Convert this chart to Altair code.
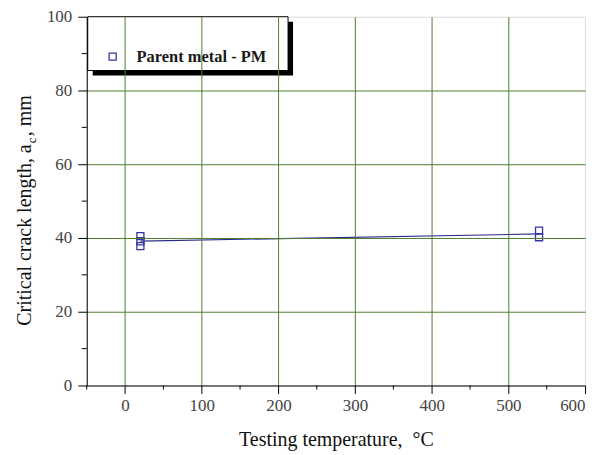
import altair as alt
import pandas as pd

# ---- data ----
temps = [20, 20, 20, 540, 540]
crack = [40.5, 39.1, 37.8, 42.0, 40.2]
series_name = "Parent metal - PM"

x_major = [0, 100, 200, 300, 400, 500, 600]
x_minor = [-50, 50, 150, 250, 350, 450, 550]
y_major = [0, 20, 40, 60, 80, 100]
y_minor = [10, 30, 50, 70, 90]

df = pd.DataFrame({"T": temps, "ac": crack})
one = pd.DataFrame({"k": [0]})
xmin_df = pd.DataFrame({"v": x_minor})
ymin_df = pd.DataFrame({"v": y_minor})

W, H = 500, 370
GRID = "#4e7d32"
FONT = "Liberation Serif"
PTC = "#3535a5"
LINEC = "#2b2b8c"

x_scale = alt.Scale(domain=[-50, 600], nice=False, zero=False)
y_scale = alt.Scale(domain=[0, 100], nice=False)


def x_axis():
    return alt.Axis(
        values=x_major,
        title="Testing temperature,\u00a0\u00a0°C",
        titleFont=FONT, titleFontSize=20, titleFontWeight="normal", titleColor="#111",
        titlePadding=16,
        labelFont=FONT, labelFontSize=17, labelColor="#444",
        labelPadding=4,
        tickColor="black", tickSize=8,
        domainColor="black",
        grid=True, gridColor=GRID, gridWidth=1,
        gridOpacity={"condition": {"test": "datum.value < 599", "value": 1}, "value": 0},
        zindex=1,
    )


def y_axis():
    return alt.Axis(
        values=y_major,
        title=None,
        labelFont=FONT, labelFontSize=17, labelColor="#444",
        labelPadding=6,
        tickColor="black", tickSize=9,
        domainColor="black",
        grid=True, gridColor=GRID, gridWidth=1,
        gridOpacity={"condition": {"test": "datum.value > 1 && datum.value < 99", "value": 1}, "value": 0},
        zindex=1,
    )


base = alt.Chart(df)

line = base.transform_regression("T", "ac", extent=[20, 540]).mark_line(
    color=LINEC, strokeWidth=1.1
).encode(
    x=alt.X("T:Q", scale=x_scale, axis=x_axis()),
    y=alt.Y("ac:Q", scale=y_scale, axis=y_axis()),
)

points = base.mark_point(shape="square", filled=False, size=50, color=PTC, strokeWidth=1.3, opacity=1).encode(
    x=alt.X("T:Q", scale=x_scale, axis=x_axis()),
    y=alt.Y("ac:Q", scale=y_scale, axis=y_axis()),
)

# minor ticks
xminor = alt.Chart(xmin_df).mark_rule(color="black", strokeWidth=1).encode(
    x=alt.X("v:Q", scale=x_scale, axis=x_axis()),
    y=alt.value(H), y2=alt.value(H + 4),
)
yminor = alt.Chart(ymin_df).mark_rule(color="black", strokeWidth=1).encode(
    y=alt.Y("v:Q", scale=y_scale, axis=y_axis()),
    x=alt.value(-5), x2=alt.value(0),
)

# legend box with shadow
shadow = alt.Chart(one).mark_rect(color="black").encode(
    x=alt.value(6), x2=alt.value(207), y=alt.value(5), y2=alt.value(59)
)
box = alt.Chart(one).mark_rect(fill="white", stroke="black", strokeWidth=1).encode(
    x=alt.value(1), x2=alt.value(202), y=alt.value(0), y2=alt.value(54)
)
leg_sym = alt.Chart(one).mark_point(shape="square", filled=False, size=50, color=PTC, strokeWidth=1.3, opacity=1).encode(
    x=alt.value(26), y=alt.value(40)
)
leg_txt = alt.Chart(one).mark_text(
    text=series_name, font=FONT, fontSize=16.5, fontWeight="bold", align="left", baseline="middle", color="#1a1a1a"
).encode(x=alt.value(50), y=alt.value(40))

# y title with subscript
yt1 = alt.Chart(one).mark_text(
    text="Critical crack length, a", font=FONT, fontSize=20, angle=270, align="right", baseline="alphabetic", color="#111"
).encode(x=alt.value(-56), y=alt.value(128))
yt2 = alt.Chart(one).mark_text(
    text="c", font=FONT, fontSize=13, angle=270, align="left", baseline="alphabetic", color="#111"
).encode(x=alt.value(-51), y=alt.value(127))
yt3 = alt.Chart(one).mark_text(
    text=", mm", font=FONT, fontSize=20, angle=270, align="left", baseline="alphabetic", color="#111"
).encode(x=alt.value(-56), y=alt.value(120))

chart = alt.layer(line, points, xminor, yminor, shadow, box, leg_sym, leg_txt, yt1, yt2, yt3).properties(
    width=W, height=H,
    autosize=alt.AutoSizeParams(type="none"),
    padding={"left": 79, "top": 8, "right": 15, "bottom": 68},
).configure_view(stroke="black", strokeWidth=1).configure(background="white")

chart.save("out.html", embed_options={"renderer": "svg", "actions": False})
